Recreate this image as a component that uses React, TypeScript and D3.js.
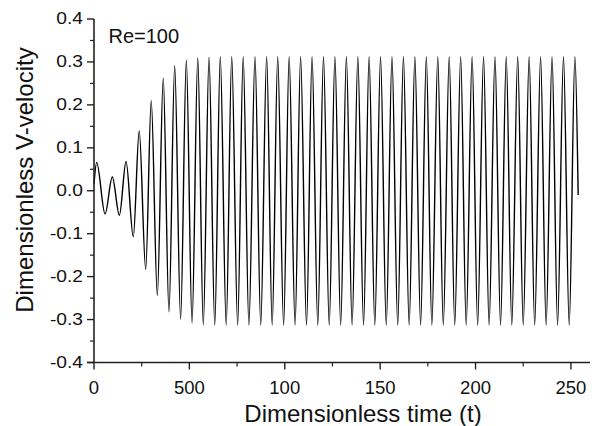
import React from "react";
import * as d3 from "d3";

const peakT = [1.4, 9.6, 16.8, 23.7, 30.0, 36.3, 42.3, 48.4, 54.4, 60.3, 66.2, 72.2, 78.2, 84.4, 90.5, 96.3, 102.3, 108.3, 114.3, 120.3, 126.3, 132.3, 138.3, 144.2, 150.2, 156.2, 162.2, 168.2, 174.2, 180.2, 186.2, 192.2, 198.2, 204.2, 210.2, 216.1, 222.1, 228.1, 234.1, 240.1, 246.1, 252.1];
const peakV = [0.066, 0.032, 0.068, 0.139, 0.210, 0.262, 0.291, 0.304, 0.309, 0.311, 0.312, 0.312, 0.312, 0.312, 0.312, 0.312, 0.312, 0.312, 0.312, 0.312, 0.312, 0.312, 0.312, 0.312, 0.312, 0.312, 0.312, 0.312, 0.312, 0.312, 0.312, 0.312, 0.312, 0.312, 0.312, 0.312, 0.312, 0.312, 0.312, 0.312, 0.312, 0.312];
const troughT = [5.8, 13.3, 20.6, 27.1, 33.2, 39.3, 45.4, 51.4, 57.3, 63.3, 69.3, 75.3, 81.2, 87.4, 93.4, 99.4, 105.4, 111.4, 117.3, 123.3, 129.3, 135.3, 141.3, 147.2, 153.2, 159.2, 165.2, 171.2, 177.1, 183.1, 189.1, 195.1, 201.1, 207.1, 213.1, 219.0, 225.0, 231.0, 237.0, 243.0, 249.1];
const troughV = [-0.054, -0.057, -0.107, -0.183, -0.244, -0.282, -0.299, -0.308, -0.312, -0.313, -0.313, -0.313, -0.313, -0.313, -0.313, -0.313, -0.313, -0.313, -0.313, -0.313, -0.313, -0.313, -0.313, -0.313, -0.313, -0.313, -0.313, -0.313, -0.313, -0.313, -0.313, -0.313, -0.313, -0.313, -0.313, -0.313, -0.313, -0.313, -0.313, -0.313, -0.313];
const startPoint = [0, 0.015];
const endPoint = [253.8, -0.01];

const xTicks = [0, 50, 100, 150, 200, 250];
const xTickLabels = ["0", "500", "100", "150", "200", "250"];
const xMinorTicks = [25, 75, 125, 175, 225];
const yTicks = [-0.4, -0.3, -0.2, -0.1, 0.0, 0.1, 0.2, 0.3, 0.4];
const yTickLabels = ["-0.4", "-0.3", "-0.2", "-0.1", "0.0", "0.1", "0.2", "0.3", "0.4"];
const yMinorTicks = [-0.35, -0.25, -0.15, -0.05, 0.05, 0.15, 0.25, 0.35];

const xTitle = "Dimensionless time (t)";
const yTitle = "Dimensionless V-velocity";
const annotation = "Re=100";

export default function App() {
  const W = 595, H = 426;
  const x = d3.scaleLinear().domain([0, 260]).range([94, 590]);
  const y = d3.scaleLinear().domain([-0.4, 0.4]).range([362.5, 19]);

  const pts: [number, number][] = [[startPoint[0], startPoint[1]]];
  peakT.forEach((t, i) => pts.push([t, peakV[i]]));
  troughT.forEach((t, i) => pts.push([t, troughV[i]]));
  pts.push([endPoint[0], endPoint[1]]);
  pts.sort((a, b) => a[0] - b[0]);

  const line = d3
    .line<[number, number]>()
    .x((d) => x(d[0]))
    .y((d) => y(d[1]))
    .curve(d3.curveMonotoneX);

  const font = "Liberation Sans, Arial, sans-serif";
  const axisColor = "#222";
  const x0 = x(0);
  const yb = y(-0.4);

  return (
    <svg
      width={W}
      height={H}
      style={{ position: "absolute", left: 0, top: 0, background: "#fff", display: "block" }}
      fontFamily={font}
    >
      <rect x={0} y={0} width={W} height={H} fill="#fff" />
      <path d={line(pts) || ""} fill="none" stroke="#000" strokeWidth={1.4} />
      <line x1={x0} x2={x0} y1={y(0.4)} y2={yb} stroke={axisColor} strokeWidth={1.6} />
      <line x1={x0 - 7} x2={x(260)} y1={yb} y2={yb} stroke={axisColor} strokeWidth={1.6} />
      {yTicks.map((v, i) => (
        <g key={"yt" + i}>
          <line x1={x0 - 7} x2={x0} y1={y(v)} y2={y(v)} stroke={axisColor} strokeWidth={1.4} />
          <text
            transform={`translate(${x0 - 11},${y(v) + 5}) scale(1.2,1)`}
            textAnchor="end"
            fontSize={16}
            fill="#111"
          >
            {yTickLabels[i]}
          </text>
        </g>
      ))}
      {yMinorTicks.map((v, i) => (
        <line key={"ym" + i} x1={x0 - 4} x2={x0} y1={y(v)} y2={y(v)} stroke={axisColor} strokeWidth={1.2} />
      ))}
      {xTicks.map((v, i) => (
        <g key={"xt" + i}>
          <line x1={x(v)} x2={x(v)} y1={yb} y2={yb + 7} stroke={axisColor} strokeWidth={1.4} />
          <text x={x(v)} y={393.5} textAnchor="middle" fontSize={18.5} fill="#111">
            {xTickLabels[i]}
          </text>
        </g>
      ))}
      {xMinorTicks.map((v, i) => (
        <line key={"xm" + i} x1={x(v)} x2={x(v)} y1={yb} y2={yb + 4} stroke={axisColor} strokeWidth={1.2} />
      ))}
      <text x={363} y={421.5} textAnchor="middle" fontSize={24} fill="#111">
        {xTitle}
      </text>
      <text
        transform={`translate(33,180) rotate(-90)`}
        textAnchor="middle"
        fontSize={24}
        fill="#111"
      >
        {yTitle}
      </text>
      <text x={108.5} y={42.7} fontSize={20} fill="#111">
        {annotation}
      </text>
    </svg>
  );
}
